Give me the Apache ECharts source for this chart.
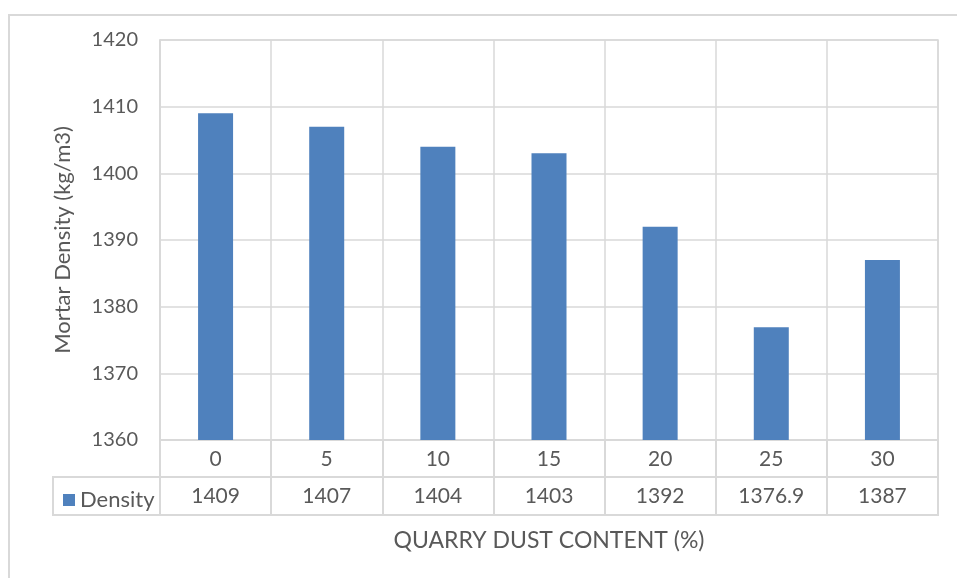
<!DOCTYPE html>
<html>
<head>
<meta charset="utf-8">
<script src="https://cdn.jsdelivr.net/npm/echarts@6/dist/echarts.min.js"></script>
<style>
  html, body { margin: 0; padding: 0; background: #fff; }
  #chart { width: 957px; height: 578px; }
</style>
</head>
<body>
<div id="chart"></div>
<script>
// data
const categories = ['0', '5', '10', '15', '20', '25', '30'];
const density = [1409, 1407, 1404, 1403, 1392, 1376.9, 1387];
const yTicks = { min: 1360, max: 1420, interval: 10 };

const gridColor = '#d9d9d9';
const textColor = '#595959';
const font = 'Lato, "Open Sans", sans-serif';

const chart = echarts.init(document.getElementById('chart'));

chart.setOption({
  backgroundColor: '#fff',
  animation: false,
  textStyle: { fontFamily: font },
  legend: {
    data: ['Density'],
    left: 58,
    top: 484,
    icon: 'rect',
    itemWidth: 12,
    itemHeight: 12,
    itemGap: 8,
    textStyle: { color: textColor, fontSize: 22, fontFamily: font },
  },
  graphic: [
    { // outer chart frame (cut by page edge)
      type: 'rect',
      shape: { x: 9, y: 15, width: 1000, height: 600 },
      style: { fill: 'none', stroke: gridColor, lineWidth: 2 },
      silent: true,
    },
    { // legend cell of the data table
      type: 'rect',
      shape: { x: 53, y: 477, width: 107, height: 38 },
      style: { fill: 'none', stroke: gridColor, lineWidth: 2 },
      silent: true,
    },
  ],
  grid: [
    { left: 160, right: 19, top: 40, height: 400, show: true, borderColor: gridColor, borderWidth: 1.5 },
    { left: 160, right: 19, top: 477, height: 38, show: true, borderColor: gridColor, borderWidth: 2 },
  ],
  xAxis: [
    {
      gridIndex: 0,
      type: 'category',
      data: categories,
      axisLine: { lineStyle: { color: gridColor, width: 2 } },
      axisTick: { show: true, length: 37, interval: 0, lineStyle: { color: gridColor, width: 2 } },
      axisLabel: { color: textColor, fontSize: 21, margin: 9 },
      splitLine: { show: true, interval: 0, lineStyle: { color: gridColor, width: 1.5 } },
    },
    {
      gridIndex: 1,
      type: 'category',
      position: 'bottom',
      data: density.map(String),
      axisLine: { lineStyle: { color: gridColor, width: 2 } },
      axisTick: { show: false },
      splitLine: { show: true, interval: 0, lineStyle: { color: gridColor, width: 2 } },
      axisLabel: { inside: true, color: textColor, fontSize: 21, margin: 8, verticalAlign: 'bottom' },
      name: 'QUARRY DUST CONTENT (%)',
      nameLocation: 'middle',
      nameGap: 14,
      nameTextStyle: { color: textColor, fontSize: 23, fontFamily: font },
    },
  ],
  yAxis: [
    {
      gridIndex: 0,
      type: 'value',
      min: yTicks.min,
      max: yTicks.max,
      interval: yTicks.interval,
      axisLine: { show: true, lineStyle: { color: gridColor, width: 1.5 } },
      axisTick: { show: false },
      axisLabel: { color: textColor, fontSize: 20, margin: 22, formatter: (v) => String(v) },
      splitLine: { lineStyle: { color: gridColor, width: 1.5 } },
      name: 'Mortar Density (kg/m3)',
      nameLocation: 'middle',
      nameGap: 86,
      nameTextStyle: { color: textColor, fontSize: 22, fontFamily: font },
    },
    {
      gridIndex: 1,
      type: 'value',
      show: false,
    },
  ],
  series: [
    {
      name: 'Density',
      type: 'bar',
      xAxisIndex: 0,
      yAxisIndex: 0,
      data: density,
      barWidth: 35,
      itemStyle: { color: '#4f81bd' },
    },
  ],
});
</script>
</body>
</html>
